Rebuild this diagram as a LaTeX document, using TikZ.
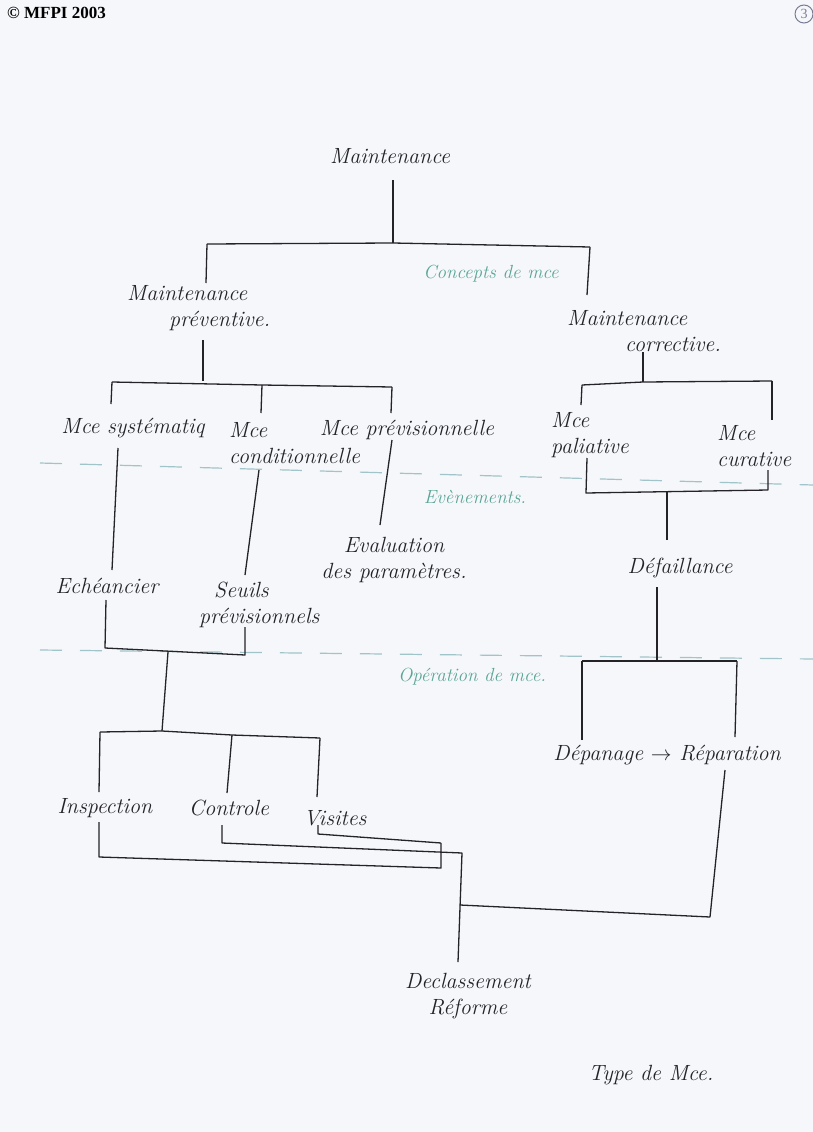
\documentclass[tikz,border=0pt]{standalone}
\usepackage{fontspec}
\newfontfamily\headfont{Liberation Serif}
\definecolor{paper}{RGB}{246,247,250}
\definecolor{ink}{RGB}{35,35,40}
\definecolor{tealink}{RGB}{90,165,152}
\definecolor{guide}{RGB}{160,196,202}
\definecolor{stamp}{RGB}{120,125,150}
\tikzset{
  x=1pt, y=-1pt,
  hand/.style={font=\fontsize{22}{26}\selectfont\itshape, text=ink, inner sep=1pt},
  zone/.style={font=\fontsize{19}{22}\selectfont\itshape, text=tealink, inner sep=1pt},
  wire/.style={draw=ink, line width=1.3pt, line join=round},
  band/.style={draw=guide, line width=1.2pt, dash pattern=on 22pt off 18pt},
}
\begin{document}
\begin{tikzpicture}
% page
\fill[paper] (0,0) rectangle (813,1132);
\useasboundingbox (0,0) rectangle (813,1132);

% header
\node[anchor=west, font=\headfont\bfseries\fontsize{17}{19}\selectfont, inner sep=0pt] (copy) at (7,13) {© MFPI 2003};
\node[circle, draw=stamp, text=stamp, line width=1pt, inner sep=1pt, minimum size=18pt,
      font=\headfont\fontsize{14}{14}\selectfont] (page) at (804,14) {3};

% zone separators
\draw[band] (40,463) -- (813,485);
\draw[band] (40,650) -- (813,659);

% zone labels
\node[zone] (zconcepts) at (491,274) {Concepts de mce};
\node[zone] (zevents) at (475,497) {Evènements.};
\node[zone] (zoper) at (472,677) {Opération de mce.};

% nodes
\node[hand] (root) at (390,156) {Maintenance};
\node[hand, anchor=west, align=left] (prev) at (126,308) {Maintenance\\\hspace*{42pt}préventive.};
\node[hand, anchor=west, align=left] (corr) at (566,331) {Maintenance\\\hspace*{58pt}corrective.};

\node[hand] (sys) at (133,428) {Mce systématiq};
\node[hand, anchor=west, align=left] (cond) at (228,443) {Mce\\conditionnelle};
\node[hand] (previs) at (407,430) {Mce prévisionnelle};

\node[hand, anchor=west, align=left] (pall) at (550,435) {Mce\\paliative};
\node[hand, anchor=west, align=left] (cur) at (716,446) {Mce\\curative};

\node[hand] (ech) at (107,586) {Echéancier};
\node[hand, anchor=west, align=left] (seuils) at (198,605) {\hspace*{15pt}Seuils\\prévisionnels};
\node[hand, align=center] (eval) at (394,560) {Evaluation\\des paramètres.};
\node[hand] (def) at (680,568) {Défaillance};

\node[hand] (insp) at (105,808) {Inspection};
\node[hand] (ctrl) at (229,808) {Controle};
\node[hand] (vis) at (335,818) {Visites};
\node[hand] (dep) at (667,755) {Dépanage $\rightarrow$ Réparation};

\node[hand, align=center] (decl) at (468,996) {Declassement\\Réforme};
\node[hand] (type) at (651,1075) {Type de Mce.};

% junction points
\coordinate (j0t) at (393,180);
\coordinate (j0) at (393,243);
\coordinate (j0l) at (207,244);
\coordinate (j0r) at (590,247);

\coordinate (j1) at (203,381);
\coordinate (j1l) at (112,382);
\coordinate (j1m) at (262,385);
\coordinate (j1r) at (392,387);

\coordinate (j2) at (643,382);
\coordinate (j2l) at (582,385);
\coordinate (j2r) at (772,381);

\coordinate (j3l) at (105,648);
\coordinate (j3r) at (245,655);
\coordinate (j3) at (168,652);

\coordinate (j4) at (162,731);
\coordinate (j4l) at (100,732);
\coordinate (j4m) at (232,735);
\coordinate (j4r) at (320,738);

\coordinate (j5l) at (586,493);
\coordinate (j5r) at (768,490);
\coordinate (j5) at (667,492);

\coordinate (j6) at (657,661);
\coordinate (j6l) at (582,661);
\coordinate (j6r) at (737,661);

\coordinate (k1) at (99,857);
\coordinate (k1e) at (441,868);
\coordinate (k2) at (222,843);
\coordinate (k2e) at (462,853);
\coordinate (k3) at (318,834);
\coordinate (k3e) at (441,843);
\coordinate (k4) at (710,917);
\coordinate (k4e) at (460,905);

% Maintenance -> preventive / corrective
\draw[wire] (j0t) -- (j0);
\draw[wire] (j0l) -- (j0) -- (j0r);
\draw[wire] (j0l) -- (206,283);
\draw[wire] (j0r) -- (587,295);

% preventive branch
\draw[wire] (203,340) -- (j1);
\draw[wire] (j1l) -- (j1m) -- (j1r);
\draw[wire] (j1l) -- (111,404);
\draw[wire] (j1m) -- (261,413);
\draw[wire] (j1r) -- (391,413);

% corrective branch
\draw[wire] (643,352) -- (j2);
\draw[wire] (j2l) -- (j2) -- (j2r);
\draw[wire] (j2l) -- (581,405);
\draw[wire] (j2r) -- (772,420);

% events
\draw[wire] (118,448) -- (112,570);
\draw[wire] (259,470) -- (245,575);
\draw[wire] (392,440) -- (380,525);
\draw[wire] (587,458) -- (j5l) -- (j5r) -- (768,470);
\draw[wire] (j5) -- (667,540);

% operations
\draw[wire] (106,600) -- (j3l) -- (j3r) -- (245,627);
\draw[wire] (j3) -- (j4);
\draw[wire] (j4l) -- (j4) -- (j4m) -- (j4r);
\draw[wire] (j4l) -- (99,792);
\draw[wire] (j4m) -- (227,793);
\draw[wire] (j4r) -- (317,797);

\draw[wire] (657,587) -- (j6);
\draw[wire] (j6l) -- (j6r);
\draw[wire] (j6l) -- (582,740);
\draw[wire] (j6r) -- (735,737);

% towards declassement
\draw[wire] (99,822) -- (k1) -- (k1e) -- (k3e);
\draw[wire] (222,825) -- (k2) -- (k2e) -- (458,962);
\draw[wire] (318,825) -- (k3) -- (k3e);
\draw[wire] (725,770) -- (k4) -- (k4e);
\end{tikzpicture}
\end{document}
